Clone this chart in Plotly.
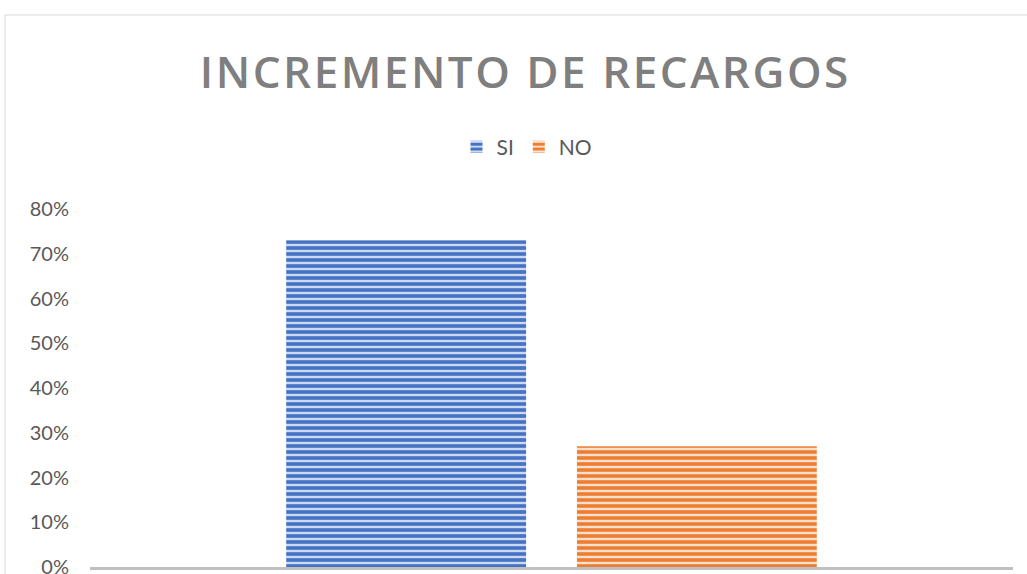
import plotly.graph_objects as go

categories = ["Incremento de recargos"]
series_names = ["SI", "NO"]
si_values = [0.73]
no_values = [0.27]
tick_vals = [0, 0.1, 0.2, 0.3, 0.4, 0.5, 0.6, 0.7, 0.8]
title_text = "INCREMENTO DE RECARGOS"

fig = go.Figure()
fig.add_trace(go.Bar(
    name=series_names[0], x=categories, y=si_values,
    marker=dict(color="#c9d6ef", line=dict(width=0),
                pattern=dict(shape="-", fgcolor="#4472C4", bgcolor="#cdd9f0",
                             fgopacity=1, size=6, solidity=0.6)),
))
fig.add_trace(go.Bar(
    name=series_names[1], x=categories, y=no_values,
    marker=dict(color="#fbe0cd", line=dict(width=0),
                pattern=dict(shape="-", fgcolor="#ED7D31", bgcolor="#fbe0cd",
                             fgopacity=1, size=6, solidity=0.6)),
))

W, H = 1027, 574
L, R, T, B = 90, 14, 209, 7
pw, ph = W - L - R, H - T - B

# letter-spaced title (small hair spaces between letters)
sep = '<span style="font-size:25px">\u200a</span>'
spaced_title = (sep + " " + sep).join(sep.join(word) for word in title_text.split(" "))

fig.update_layout(
    width=W, height=H,
    margin=dict(l=L, r=R, t=T, b=B),
    paper_bgcolor="white", plot_bgcolor="white",
    barmode="group", bargap=0.37, bargroupgap=0.175,
    title=dict(text=spaced_title,
               x=524 / W, xanchor="center", y=1 - 73 / H, yanchor="middle",
               font=dict(family="Open Sans", size=44, color="#7f7f7f", weight=600)),
    legend=dict(orientation="h", x=(527 - L) / pw, xanchor="center",
                y=(567 - 147) / ph, yanchor="middle",
                font=dict(family="Lato", size=21, color="#595959"),
                itemwidth=30, bgcolor="rgba(0,0,0,0)"),
    xaxis=dict(showticklabels=False, showline=True, linecolor="#bfbfbf",
               linewidth=3, showgrid=False, zeroline=False, automargin=False),
    yaxis=dict(range=[0, 0.8], tickvals=tick_vals, tickformat=".0%",
               showgrid=False, zeroline=False, showline=False,
               tickfont=dict(family="Lato", size=20, color="#595959"),
               ticklabelstandoff=20, ticklabeloverflow="allow", automargin=False),
    shapes=[dict(type="rect", xref="paper", yref="paper",
                 x0=(5 - L) / pw, x1=1.5, y0=-0.5, y1=(567 - 15) / ph,
                 line=dict(color="#d9d9d9", width=1), layer="below")],
)

fig.write_html("out.html", config={"displayModeBar": False},
               post_script="document.body.style.margin='0';document.body.style.padding='0';")
